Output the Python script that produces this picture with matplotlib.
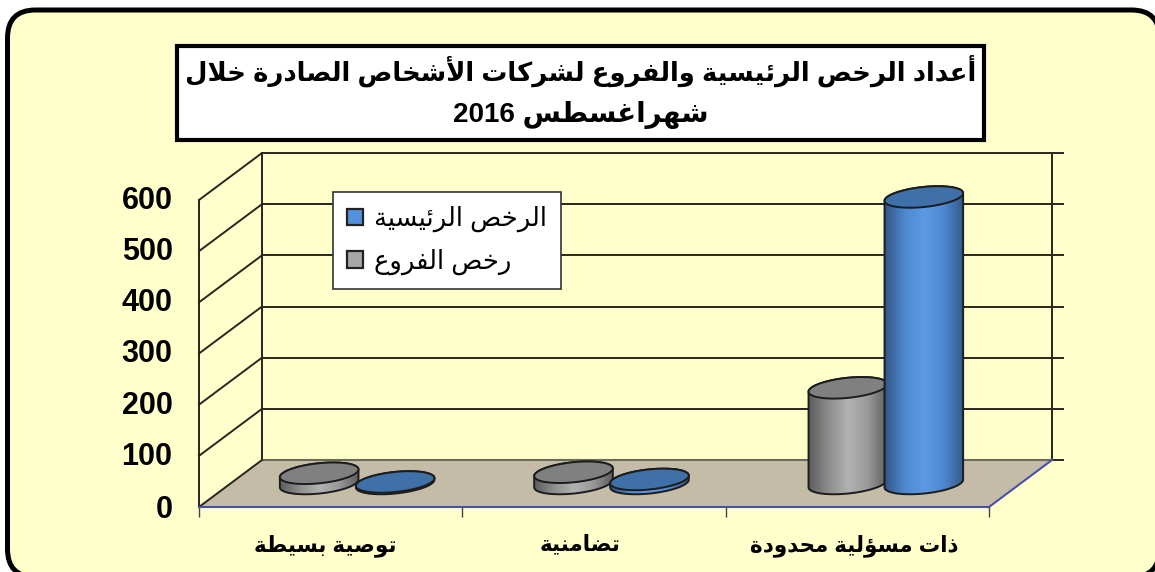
import re
import numpy as np
import matplotlib
matplotlib.use("Agg")
import matplotlib.pyplot as plt
from matplotlib.colors import LinearSegmentedColormap
from matplotlib.patches import FancyBboxPatch, Patch, Polygon, Rectangle
from matplotlib.transforms import ScaledTranslation

# data
categories = ["توصية بسيطة", "تضامنية", "ذات مسؤلية محدودة"]
main_licences = [3, 8, 560]
branch_licences = [20, 22, 187]
value_ticks = [0, 100, 200, 300, 400, 500, 600]
title_lines = ["أعداد الرخص الرئيسية والفروع لشركات الأشخاص الصادرة خلال", "شهراغسطس 2016"]
series_names = ["الرخص الرئيسية", "رخص الفروع"]

# chart geometry, in pixels of the 1155x572 picture
W, H = 1155, 572
FRONT_L, FRONT_R, FRONT_BOTTOM, FRONT_TOP = 199, 989, 507, 200
DEPTH_X, DEPTH_Y = 63, 47
PX_X = (FRONT_R - FRONT_L) / 3
PX_Y = (FRONT_BOTTOM - FRONT_TOP) / 600
GROUP_NUDGE = [-5, -14, -3]   # the columns do not sit quite centred in the original

DUAL = {"ئ": 0xFE89, "ب": 0xFE8F, "ت": 0xFE95, "ث": 0xFE99, "ج": 0xFE9D, "ح": 0xFEA1, "خ": 0xFEA5,
        "س": 0xFEB1, "ش": 0xFEB5, "ص": 0xFEB9, "ض": 0xFEBD, "ط": 0xFEC1, "ظ": 0xFEC5, "ع": 0xFEC9,
        "غ": 0xFECD, "ف": 0xFED1, "ق": 0xFED5, "ك": 0xFED9, "ل": 0xFEDD, "م": 0xFEE1, "ن": 0xFEE5,
        "ه": 0xFEE9, "ي": 0xFEF1}
RIGHT_ONLY = {"أ": 0xFE83, "ؤ": 0xFE85, "ا": 0xFE8D, "ة": 0xFE93, "د": 0xFEA9, "ذ": 0xFEAB,
              "ر": 0xFEAD, "ز": 0xFEAF, "و": 0xFEED}
LAM_ALEF = {"ا": (0xFEFB, 0xFEFC), "أ": (0xFEF7, 0xFEF8)}


# matplotlib does not shape arabic, so pick the joined forms and put them in visual order
def shape(text):
    out = []
    i = 0
    prev_joins = False
    while i < len(text):
        ch = text[i]
        nxt = text[i + 1] if i + 1 < len(text) else ""
        if ch == "ل" and nxt in LAM_ALEF:
            out.append(chr(LAM_ALEF[nxt][1 if prev_joins else 0]))
            prev_joins = False
            i += 2
            continue
        if ch in DUAL:
            next_ok = nxt in DUAL or nxt in RIGHT_ONLY
            form = (1 if prev_joins else 0) if not next_ok else (3 if prev_joins else 2)
            out.append(chr(DUAL[ch] + form))
            prev_joins = next_ok
        elif ch in RIGHT_ONLY:
            out.append(chr(RIGHT_ONLY[ch] + (1 if prev_joins else 0)))
            prev_joins = False
        else:
            out.append(ch)
            prev_joins = False
        i += 1
    parts = re.findall(r"\d+|\D", "".join(out))
    return "".join(reversed(parts))


def ellipse_xy(x0, y0, a, b, tilt, t):
    # x0, y0 in data units, the ellipse itself is measured in pixels
    ex = a * np.cos(t) * np.cos(tilt) - b * np.sin(t) * np.sin(tilt)
    ey = a * np.cos(t) * np.sin(tilt) + b * np.sin(t) * np.cos(tilt)
    return np.column_stack([x0 + ex / PX_X, y0 + ey / PX_Y])


def cylinder(ax, x_cat, value, side_cmap, top_color, z):
    a, b, tilt = 39.5, 10, np.radians(6)
    x = x_cat + (DEPTH_X / 2) / PX_X
    base = (DEPTH_Y / 2) / PX_Y
    t0 = np.arctan2(-b * np.sin(tilt), a * np.cos(tilt))
    lower = ellipse_xy(x, base, a, b, tilt, np.linspace(t0 + np.pi, t0 + 2 * np.pi, 60))
    upper = ellipse_xy(x, base + value, a, b, tilt, np.linspace(t0, t0 + np.pi, 60))
    outline = Polygon(np.vstack([lower, upper]), closed=True, fill=False, ec="#1c1c1c", lw=1.4,
                      zorder=z + 0.2, clip_on=False)
    ax.add_patch(outline)
    xmin, xmax = lower[:, 0].min(), lower[:, 0].max()
    im = ax.imshow(np.linspace(0, 1, 80).reshape(1, -1), cmap=side_cmap, aspect="auto",
                   extent=[xmin, xmax, 0, base + value + 40], zorder=z)
    im.set_clip_box(ax.figure.bbox)
    im.set_clip_path(outline)
    top = ellipse_xy(x, base + value, a, b, tilt, np.linspace(0, 2 * np.pi, 120))
    ax.add_patch(Polygon(top, closed=True, fc=top_color, ec="#1c1c1c", lw=1.4, zorder=z + 0.3, clip_on=False))


def main():
    plt.rcParams["font.family"] = ["Liberation Sans", "DejaVu Sans"]
    fig = plt.figure(figsize=(W / 100, H / 100), dpi=100, facecolor="white")

    # card and title box, in plain pixel coordinates
    bg = fig.add_axes([0, 0, 1, 1])
    bg.set_xlim(0, W)
    bg.set_ylim(H, 0)
    bg.axis("off")
    bg.add_patch(FancyBboxPatch((7.5, 10), 1152, 567, boxstyle="round,pad=0,rounding_size=28",
                                fc="#FFFFCC", ec="black", lw=3.6, clip_on=False))
    bg.add_patch(Rectangle((177, 46), 807, 94, fc="white", ec="black", lw=3))
    bg.text(581, 71, shape(title_lines[0]), ha="center", va="center", fontsize=18.6, fontweight="bold")
    bg.text(581, 115, shape(title_lines[1]), ha="center", va="center", fontsize=20, fontweight="bold")

    ax = fig.add_axes([FRONT_L / W, 1 - FRONT_BOTTOM / H, (FRONT_R - FRONT_L) / W, (FRONT_BOTTOM - FRONT_TOP) / H])
    ax.patch.set_visible(False)

    dx = DEPTH_X / PX_X
    dy = DEPTH_Y / PX_Y
    wall = "#26261e"
    tick_out = 11 / PX_X

    # floor
    ax.add_patch(Polygon([(0, 0), (dx, dy), (3 + dx, dy), (3, 0)], closed=True, fc="#C5BCA8", ec="none",
                         zorder=1, clip_on=False))
    ax.plot([dx, 3 + dx], [dy, dy], color="#6b6b5c", lw=1.5, zorder=1.1, clip_on=False)
    ax.plot([3, 3 + dx], [0, dy], color="#4A4FA8", lw=1.5, zorder=1.1, clip_on=False)

    # back wall lines, left wall diagonals, right side ticks
    for v in value_ticks:
        if v > 0:
            ax.plot([dx, 3 + dx + tick_out], [v + dy, v + dy], color=wall, lw=1.4, zorder=0.8, clip_on=False)
            ax.plot([0, dx], [v, v + dy], color=wall, lw=1.4, zorder=0.8, clip_on=False)
    ax.plot([3 + dx, 3 + dx + tick_out], [dy, dy], color=wall, lw=1.4, zorder=0.8, clip_on=False)
    ax.plot([0, dx], [0, dy], color=wall, lw=1.4, zorder=1.2, clip_on=False)
    ax.plot([dx, dx], [dy, 600 + dy], color=wall, lw=1.4, zorder=0.8, clip_on=False)
    ax.plot([3 + dx, 3 + dx], [dy, 600 + dy], color=wall, lw=1.4, zorder=0.8, clip_on=False)

    # columns
    grey_cmap = LinearSegmentedColormap.from_list("g", ["#5f5f5f", "#8e8e8e", "#b2b2b2", "#9a9a9a", "#5f5f5f"])
    blue_cmap = LinearSegmentedColormap.from_list("b", ["#34598a", "#4f88cf", "#5c9ae6", "#4f88cf", "#34598a"])
    for i, (grey_v, blue_v) in enumerate(zip(branch_licences, main_licences)):
        centre = i + 0.5 + GROUP_NUDGE[i] / PX_X
        cylinder(ax, centre - 38 / PX_X, grey_v, grey_cmap, "#808080", 3 + i)
        cylinder(ax, centre + 38 / PX_X, blue_v, blue_cmap, "#4070A8", 3.5 + i)

    ax.set_xlim(0, 3)
    ax.set_ylim(0, 600)
    ax.set_xticks([0, 1, 2, 3])
    ax.set_xticklabels([])
    ax.set_xticks([i + 0.5 + GROUP_NUDGE[i] / PX_X for i in range(3)], [shape(c) for c in categories], minor=True)
    ax.tick_params(axis="x", which="major", length=7.5, width=1, color="#444444")
    ax.tick_params(axis="x", which="minor", length=0, pad=20, labelsize=15.5)
    for lab in ax.get_xticklabels(minor=True):
        lab.set_fontweight("bold")
    ax.set_yticks(value_ticks)
    ax.tick_params(axis="y", length=0, pad=19, labelsize=22)
    for v, lab in zip(value_ticks, ax.get_yticklabels()):
        lab.set_fontweight("bold")
        if v > 0:
            lab.set_transform(lab.get_transform() + ScaledTranslation(0, 2.5 / 100, fig.dpi_scale_trans))
    ax.spines["top"].set_visible(False)
    ax.spines["right"].set_visible(False)
    ax.spines["left"].set_color(wall)
    ax.spines["left"].set_linewidth(1.4)
    ax.spines["bottom"].set_color("#4A4FA8")
    ax.spines["bottom"].set_linewidth(1.5)

    handles = [Patch(fc="#5590DC", ec="#222222", lw=1.6), Patch(fc="#A6A6A6", ec="#222222", lw=1.6)]
    labels = [shape(s) for s in series_names]
    ax.legend(handles, labels, loc="upper left", bbox_to_anchor=(333, 192), bbox_transform=bg.transData,
              borderaxespad=0, fontsize=18.5, fancybox=False, framealpha=1, facecolor="white", edgecolor="#333333",
              handlelength=0.62, handleheight=0.62, handletextpad=0.42, labelspacing=0.62, borderpad=0.55
              ).get_frame().set_linewidth(1.2)

    fig.savefig("out.png", dpi=100)


if __name__ == "__main__":
    main()
